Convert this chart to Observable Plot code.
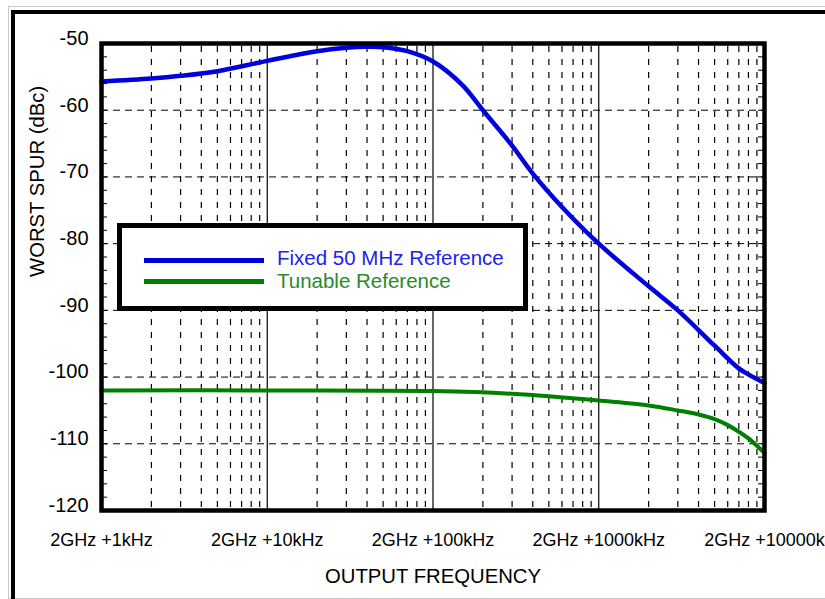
<!DOCTYPE html>
<html>
<head>
<meta charset="utf-8">
<script src="https://cdn.jsdelivr.net/npm/d3@7"></script>
<script src="https://cdn.jsdelivr.net/npm/@observablehq/plot@0.6"></script>
<style>
  html, body { margin: 0; padding: 0; background: #fff; overflow: hidden; }
  #wrap { position: relative; width: 825px; height: 599px; overflow: hidden; font-family: "Liberation Sans", Arial, Helvetica, sans-serif; }
  #wrap svg { position: absolute; left: 0; top: 0; }
  .deco { position: absolute; }
  .legtext { position: absolute; font-size: 20.5px; line-height: 22px; white-space: nowrap; }
</style>
</head>
<body>
<div id="wrap"></div>
<script>
// ---- data (offset above 2 GHz in kHz, worst spur in dBc) ----
const fixedFreq = [1, 2, 3, 5, 10, 20, 30, 40, 50, 70, 100, 150, 200, 300, 400, 600, 1000, 2000, 3000, 5000, 7000, 8000, 9000, 10000];
const fixedSpur = [-55.7, -55.25, -54.85, -54.15, -52.6, -51.15, -50.65, -50.5, -50.55, -51.15, -52.7, -56.2, -60.0, -65.3, -69.5, -74.5, -80.0, -86.4, -90.0, -95.3, -98.7, -99.6, -100.3, -100.9];

const tunableFreq = [1, 10, 100, 300, 1000, 2000, 3000, 4000, 5000, 6000, 7000, 8000, 9000, 10000];
const tunableSpur = [-102.0, -102.0, -102.1, -102.5, -103.5, -104.25, -105.0, -105.6, -106.3, -107.2, -108.2, -109.2, -110.3, -111.4];

const seriesNames = ["Fixed 50 MHz Reference", "Tunable Reference"];
const seriesColors = ["#0000dd", "#008000"];
const legendTextColors = ["#2222ee", "#2a8a2a"];

const xTickValues = [1, 10, 100, 1000, 10000];
const xTickLabels = ["2GHz +1kHz", "2GHz +10kHz", "2GHz +100kHz", "2GHz +1000kHz", "2GHz +10000k"];
const yTickValues = [-50, -60, -70, -80, -90, -100, -110, -120];
const yGridValues = [-60, -70, -80, -90, -100, -110];
const yMinorValues = d3.range(-118, -50, 2);
const minorMultipliers = [2, 3, 4, 5, 6, 7, 8, 9];
const decades = [1, 10, 100, 1000];
const xMinorValues = decades.flatMap(d => minorMultipliers.map(m => d * m));
const xDecadeLines = [10, 100, 1000];

const xTitle = "OUTPUT FREQUENCY";
const yTitle = "WORST SPUR (dBc)";

const fixedRows = fixedFreq.map((f, i) => ({f, v: fixedSpur[i]}));
const tunableRows = tunableFreq.map((f, i) => ({f, v: tunableSpur[i]}));

const W = 825, H = 599, mL = 101, mR = 61, mT = 43, mB = 89;
const innerW = W - mL - mR;

const chart = Plot.plot({
  width: W, height: H,
  marginLeft: mL, marginRight: mR, marginTop: mT, marginBottom: mB,
  style: {fontFamily: "'Liberation Sans', Arial, Helvetica, sans-serif", color: "#000", background: "transparent", overflow: "visible"},
  x: {type: "log", domain: [1, 10000], axis: null},
  y: {domain: [-120, -50], axis: null},
  marks: [
    Plot.ruleY(yGridValues, {stroke: "#000", strokeWidth: 1, strokeDasharray: "7,5"}),
    Plot.ruleX(xMinorValues, {stroke: "#000", strokeWidth: 1.2, strokeDasharray: "6,7", strokeDashoffset: -3}),
    Plot.ruleX(xDecadeLines, {stroke: "#000", strokeWidth: 1.2}),
    Plot.tickY(yMinorValues, {y: d => d, stroke: "#000", strokeWidth: 1, insetRight: innerW - 6}),
    Plot.tickY(yMinorValues, {y: d => d, stroke: "#000", strokeWidth: 1, insetLeft: innerW - 6}),
    Plot.line(tunableRows, {x: "f", y: "v", stroke: seriesColors[1], strokeWidth: 4, curve: "catmull-rom"}),
    Plot.line(fixedRows, {x: "f", y: "v", stroke: seriesColors[0], strokeWidth: 4.5, curve: "catmull-rom"}),
    Plot.frame({stroke: "#000", strokeWidth: 4.5}),
    Plot.axisX({ticks: xTickValues, tickFormat: d => xTickLabels[xTickValues.indexOf(d)], tickSize: 0, tickPadding: 23, fontSize: 18, label: null}),
    Plot.axisY({ticks: yTickValues, tickFormat: d => String(d), tickSize: 0, tickPadding: 13, dy: -5, fontSize: 20, label: null}),
    Plot.text([xTitle], {text: d => d, frameAnchor: "bottom", dy: 72, fontSize: 20.3, fill: "#000"}),
    Plot.text([yTitle], {text: d => d, frameAnchor: "left", rotate: -90, dx: -64, fontSize: 20.3, fill: "#000"})
  ]
});

const wrap = document.getElementById("wrap");

// decorative outer page frame
function deco(style) {
  const d = document.createElement("div");
  d.className = "deco";
  Object.assign(d.style, style);
  wrap.appendChild(d);
}
deco({left: "8px", top: "6px", width: "900px", height: "591px", borderTop: "1px solid #c8c8c8", borderLeft: "1px solid #c8c8c8", borderBottom: "1px solid #c8c8c8"});
deco({left: "11px", top: "10px", width: "900px", height: "700px", borderTop: "4px solid #000", borderLeft: "4px solid #000"});

wrap.appendChild(chart);

// legend box
deco({left: "117px", top: "223px", width: "411px", height: "88px", boxSizing: "border-box", border: "5px solid #000", background: "#fff"});
const swatchTops = [257.5, 278.5];
const textTops = [247.3, 269.8];
seriesNames.forEach((name, i) => {
  deco({left: "144px", top: swatchTops[i] + "px", width: "120px", height: "5px", background: seriesColors[i]});
  const t = document.createElement("div");
  t.className = "legtext";
  t.style.left = "277px";
  t.style.top = textTops[i] + "px";
  t.style.color = legendTextColors[i];
  t.textContent = name;
  wrap.appendChild(t);
});
</script>
</body>
</html>
